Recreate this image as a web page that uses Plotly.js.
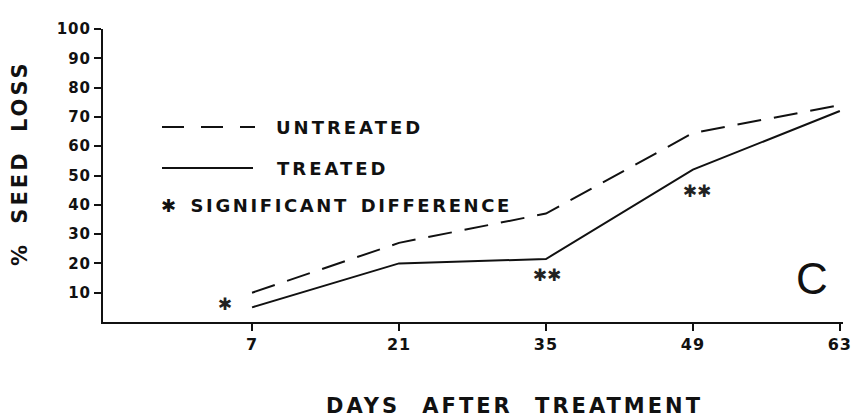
<!DOCTYPE html>
<html>
<head>
<meta charset="utf-8">
<script src="https://cdn.plot.ly/plotly-3.0.1.min.js"></script>
<style>
html,body{margin:0;padding:0;background:#fff;}
#chart{width:859px;height:419px;}
text[data-unformatted="DAYS AFTER TREATMENT"]{letter-spacing:3px;word-spacing:12px;}
text[data-unformatted="% SEED LOSS"]{letter-spacing:3px;word-spacing:8px;}
text[data-unformatted="UNTREATED"], text[data-unformatted="TREATED"]{letter-spacing:3px;}
text[data-unformatted="✱ SIGNIFICANT DIFFERENCE"]{letter-spacing:2.6px;word-spacing:3px;}
.xtick text{letter-spacing:1px;}
.ytick text{letter-spacing:1px;}
</style>
</head>
<body>
<div id="chart"></div>
<script>
const days = [7, 21, 35, 49, 63];
const untreated = [10, 27, 37, 64.5, 74];
const treated = [5, 20, 21.5, 52, 72];
const sigDays = [4.4, 35.1, 49.4];
const sigLoss = [5.5, 15.5, 44];
const sigMarks = ["✱", "✱✱", "✱✱"];
const xTicks = [7, 21, 35, 49, 63];
const yTicks = [10, 20, 30, 40, 50, 60, 70, 80, 90, 100];

const F = "DejaVu Sans, Arial, sans-serif";
const traces = [
  {x: days, y: untreated, mode: "lines", name: "UNTREATED",
   line: {color: "#111", width: 2, dash: "24px,13px"}, showlegend: false},
  {x: days, y: treated, mode: "lines", name: "TREATED",
   line: {color: "#111", width: 2}, showlegend: false},
  {x: sigDays, y: sigLoss, mode: "text", text: sigMarks, textposition: "middle center",
   textfont: {family: F, size: 17, color: "#222"}, showlegend: false, cliponaxis: false}
];

const W = 740, H = 293, L = 103, B = 322;
const px = v => (v - L) / W;
const py = v => (B - v) / H;

const layout = {
  width: 859, height: 419,
  margin: {l: 103, r: 16, t: 29, b: 97},
  paper_bgcolor: "#fff", plot_bgcolor: "#fff",
  showlegend: false,
  xaxis: {range: [-7.2, 63.3], tickvals: xTicks, ticktext: xTicks.map(String),
    showline: true, linecolor: "#111", linewidth: 2, showgrid: false, zeroline: false,
    ticks: "outside", ticklen: 7, tickwidth: 2, tickcolor: "#111",
    tickfont: {family: F, size: 16, color: "#111", weight: "bold"}},
  xaxis2: {range: [-7.2, 63.3], overlaying: "x", anchor: "y", side: "bottom",
    tickvals: xTicks, showticklabels: false, showline: false, showgrid: false, zeroline: false,
    ticks: "inside", ticklen: 6, tickwidth: 2, tickcolor: "#111"},
  yaxis: {range: [0, 100], tickvals: yTicks, ticktext: yTicks.map(String),
    showline: true, linecolor: "#111", linewidth: 2, showgrid: false, zeroline: false,
    ticks: "outside", ticklen: 7, tickwidth: 2, tickcolor: "#111",
    tickfont: {family: F, size: 15, color: "#111", weight: "bold"}},
  shapes: [
    {type: "line", xref: "paper", yref: "paper", x0: px(162), x1: px(255), y0: py(127), y1: py(127),
     line: {color: "#111", width: 2, dash: "22px,17px"}},
    {type: "line", xref: "paper", yref: "paper", x0: px(162), x1: px(253), y0: py(168), y1: py(168),
     line: {color: "#111", width: 2}}
  ],
  annotations: [
    {text: "UNTREATED", xref: "paper", yref: "paper", x: px(274), y: py(127), xanchor: "left", yanchor: "middle",
     showarrow: false, font: {family: F, size: 18, color: "#111", weight: "bold"}},
    {text: "TREATED", xref: "paper", yref: "paper", x: px(275), y: py(168), xanchor: "left", yanchor: "middle",
     showarrow: false, font: {family: F, size: 18, color: "#111", weight: "bold"}},
    {text: "✱ SIGNIFICANT DIFFERENCE", xref: "paper", yref: "paper", x: px(159), y: py(205), xanchor: "left", yanchor: "middle",
     showarrow: false, font: {family: F, size: 18, color: "#111", weight: "bold"}},
    {text: "C", xref: "paper", yref: "paper", x: px(812), y: py(278), xanchor: "center", yanchor: "middle",
     showarrow: false, font: {family: "Liberation Sans, Arial, sans-serif", size: 44, color: "#111"}},
    {text: "% SEED LOSS", xref: "paper", yref: "paper", x: px(20), y: py(163), xanchor: "center", yanchor: "middle",
     textangle: -90, showarrow: false, font: {family: F, size: 21, color: "#111", weight: "bold"}},
    {text: "DAYS AFTER TREATMENT", xref: "paper", yref: "paper", x: px(514), y: py(406), xanchor: "center", yanchor: "middle",
     showarrow: false, font: {family: F, size: 21, color: "#111", weight: "bold"}}
  ]
};

Plotly.newPlot("chart", traces, layout, {staticPlot: true, displayModeBar: false});
</script>
</body>
</html>
